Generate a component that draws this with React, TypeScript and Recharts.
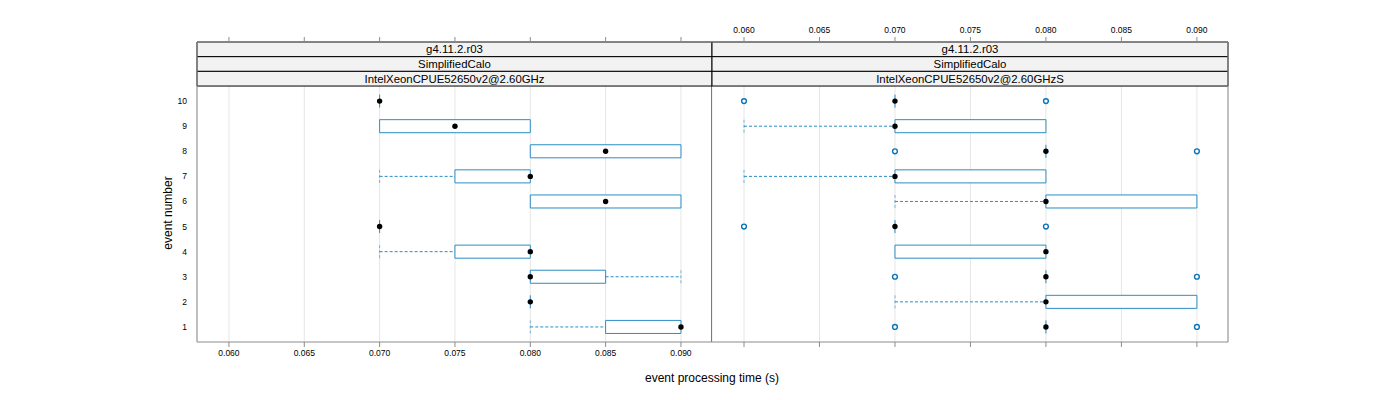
import { ComposedChart, XAxis, YAxis, CartesianGrid, Scatter, ReferenceArea, ReferenceLine } from 'recharts';

// event numbers on the y axis
const EVENTS = [1, 2, 3, 4, 5, 6, 7, 8, 9, 10];
const X_TICKS = [0.06, 0.065, 0.07, 0.075, 0.08, 0.085, 0.09];
const Y_TICKS = EVENTS;

const STRIP_LEFT = ['g4.11.2.r03', 'SimplifiedCalo', 'IntelXeonCPUE52650v2@2.60GHz'];
const STRIP_RIGHT = ['g4.11.2.r03', 'SimplifiedCalo', 'IntelXeonCPUE52650v2@2.60GHzS'];

// [lower whisker, q1, median, q3, upper whisker] per event (1..10)
const LEFT_BOXES = [
  [0.08, 0.085, 0.09, 0.09, 0.09],
  [0.08, 0.08, 0.08, 0.08, 0.08],
  [0.08, 0.08, 0.08, 0.085, 0.09],
  [0.07, 0.075, 0.08, 0.08, 0.08],
  [0.07, 0.07, 0.07, 0.07, 0.07],
  [0.08, 0.08, 0.085, 0.09, 0.09],
  [0.07, 0.075, 0.08, 0.08, 0.08],
  [0.08, 0.08, 0.085, 0.09, 0.09],
  [0.07, 0.07, 0.075, 0.08, 0.08],
  [0.07, 0.07, 0.07, 0.07, 0.07],
];
const LEFT_OUTLIERS: number[][] = [[], [], [], [], [], [], [], [], [], []];

const RIGHT_BOXES = [
  [0.08, 0.08, 0.08, 0.08, 0.08],
  [0.07, 0.08, 0.08, 0.09, 0.09],
  [0.08, 0.08, 0.08, 0.08, 0.08],
  [0.07, 0.07, 0.08, 0.08, 0.08],
  [0.07, 0.07, 0.07, 0.07, 0.07],
  [0.07, 0.08, 0.08, 0.09, 0.09],
  [0.06, 0.07, 0.07, 0.08, 0.08],
  [0.08, 0.08, 0.08, 0.08, 0.08],
  [0.06, 0.07, 0.07, 0.08, 0.08],
  [0.07, 0.07, 0.07, 0.07, 0.07],
];
const RIGHT_OUTLIERS = [
  [0.07, 0.09],
  [],
  [0.07, 0.09],
  [],
  [0.06, 0.08],
  [],
  [],
  [0.07, 0.09],
  [],
  [0.06, 0.08],
];

const X_DOMAIN = [0.05788, 0.09206];
const Y_LOW = 0.4;
const Y_HIGH = 10.6;
const STRIP_H = 0.585;
const Y_TOP = Y_HIGH + STRIP_H * 3;
const HALF = 0.26;

const BLUE = '#2b8cc4';
const OUT_BLUE = '#0a74b8';
const AXIS_GRAY = '#8c8c8c';
const FONT = '"Liberation Sans", Arial, Helvetica, sans-serif';

const fmt = (v: number) => v.toFixed(3);
const blank = () => '';

const MedianDot = (props: any) => {
  const { cx, cy } = props;
  if (cx == null || cy == null) return null;
  return <circle cx={cx} cy={cy} r={2.7} fill="#000" />;
};

const OutlierDot = (props: any) => {
  const { cx, cy } = props;
  if (cx == null || cy == null) return null;
  return <circle cx={cx} cy={cy} r={2.4} fill="#fff" stroke={OUT_BLUE} strokeWidth={1.4} />;
};

interface PanelProps {
  boxes: number[][];
  outliers: number[][];
  strips: string[];
  left: boolean;
}

const Panel = ({ boxes, outliers, strips, left }: PanelProps) => {
  const medians = boxes.map((b, i) => ({ x: b[2], y: EVENTS[i] }));
  const outs = outliers.flatMap((o, i) => o.map((v) => ({ x: v, y: EVENTS[i] })));

  const parts: any[] = [];
  boxes.forEach((b, i) => {
    const ev = EVENTS[i];
    const [lo, q1, , q3, hi] = b;
    const k = `${ev}`;
    // lower whisker + cap
    if (lo < q1) {
      parts.push(
        <ReferenceLine key={`lw${k}`} xAxisId="b" segment={[{ x: lo, y: ev }, { x: q1, y: ev }]} stroke={BLUE} strokeDasharray="3 2" />,
        <ReferenceLine key={`lc${k}`} xAxisId="b" segment={[{ x: lo, y: ev - HALF }, { x: lo, y: ev + HALF }]} stroke={BLUE} strokeOpacity={0.6} strokeDasharray="3 2" />
      );
    }
    if (hi > q3) {
      parts.push(
        <ReferenceLine key={`uw${k}`} xAxisId="b" segment={[{ x: q3, y: ev }, { x: hi, y: ev }]} stroke={BLUE} strokeDasharray="3 2" />,
        <ReferenceLine key={`uc${k}`} xAxisId="b" segment={[{ x: hi, y: ev - HALF }, { x: hi, y: ev + HALF }]} stroke={BLUE} strokeOpacity={0.6} strokeDasharray="3 2" />
      );
    }
    if (q3 > q1) {
      parts.push(
        <ReferenceArea key={`bx${k}`} xAxisId="b" x1={q1} x2={q3} y1={ev - HALF} y2={ev + HALF} fill="#fff" fillOpacity={1} stroke={BLUE} strokeWidth={1} />
      );
    } else {
      parts.push(
        <ReferenceLine key={`bx${k}`} xAxisId="b" segment={[{ x: q1, y: ev - HALF }, { x: q1, y: ev + HALF }]} stroke={BLUE} />
      );
    }
  });

  return (
    <ComposedChart
      width={left ? 712 : 530}
      height={400}
      margin={left ? { top: 0, right: 0, bottom: 33, left: 167 } : { top: 0, right: 14, bottom: 33, left: 0 }}
    >
      <CartesianGrid xAxisId="b" horizontal={false} stroke="#e6e6e6" />
      <XAxis
        xAxisId="t"
        orientation="top"
        dataKey="x"
        type="number"
        domain={X_DOMAIN}
        ticks={X_TICKS}
        height={42}
        tickSize={5}
        tickMargin={4}
        tickFormatter={left ? blank : fmt}
        tick={{ fontSize: 8.5, fill: '#000' }}
        tickLine={{ stroke: AXIS_GRAY }}
        axisLine={{ stroke: AXIS_GRAY }}
        allowDataOverflow
      />
      <XAxis
        xAxisId="b"
        orientation="bottom"
        dataKey="x"
        type="number"
        domain={X_DOMAIN}
        ticks={X_TICKS}
        height={25}
        tickSize={5}
        tickMargin={3}
        tickFormatter={left ? fmt : blank}
        tick={{ fontSize: 8.5, fill: '#000' }}
        tickLine={{ stroke: AXIS_GRAY }}
        axisLine={{ stroke: AXIS_GRAY }}
        allowDataOverflow
      />
      {left ? (
        <YAxis
          dataKey="y"
          type="number"
          domain={[Y_LOW, Y_TOP]}
          ticks={Y_TICKS}
          width={30}
          tickLine={false}
          tickMargin={4}
          tick={{ fontSize: 8.5, fill: '#000' }}
          axisLine={{ stroke: AXIS_GRAY }}
          allowDataOverflow
        />
      ) : (
        <YAxis dataKey="y" type="number" domain={[Y_LOW, Y_TOP]} hide allowDataOverflow />
      )}
      {strips.map((s, i) => (
        <ReferenceArea
          key={s + i}
          xAxisId="b"
          x1={X_DOMAIN[0]}
          x2={X_DOMAIN[1]}
          y1={Y_TOP - STRIP_H * (i + 1)}
          y2={Y_TOP - STRIP_H * i}
          fill="#f2f2f2"
          fillOpacity={1}
          stroke="#000"
          strokeWidth={1}
          label={{ value: s, position: 'center', fill: '#000', fontSize: 11.4 }}
        />
      ))}
      <ReferenceLine
        xAxisId="b"
        segment={[{ x: X_DOMAIN[1], y: Y_LOW }, { x: X_DOMAIN[1], y: Y_TOP }]}
        stroke={left ? '#000' : AXIS_GRAY}
      />
      {parts}
      <Scatter xAxisId="b" data={outs} shape={<OutlierDot />} isAnimationActive={false} />
      <Scatter xAxisId="b" data={medians} shape={<MedianDot />} isAnimationActive={false} />
    </ComposedChart>
  );
};

export default function App() {
  return (
    <div style={{ position: 'absolute', left: 0, top: 0, width: 1400, height: 400, background: '#fff', fontFamily: FONT }}>
      <div style={{ position: 'absolute', left: 0, top: 0 }}>
        <Panel boxes={LEFT_BOXES} outliers={LEFT_OUTLIERS} strips={STRIP_LEFT} left />
      </div>
      <div style={{ position: 'absolute', left: 712, top: 0 }}>
        <Panel boxes={RIGHT_BOXES} outliers={RIGHT_OUTLIERS} strips={STRIP_RIGHT} left={false} />
      </div>
      <div
        style={{
          position: 'absolute',
          left: 168,
          top: 213,
          transform: 'translate(-50%, -50%) rotate(-90deg)',
          fontSize: 12,
          whiteSpace: 'nowrap',
        }}
      >
        event number
      </div>
      <div
        style={{
          position: 'absolute',
          left: 712,
          top: 378,
          transform: 'translate(-50%, -50%)',
          fontSize: 12,
          whiteSpace: 'nowrap',
        }}
      >
        event processing time (s)
      </div>
    </div>
  );
}
